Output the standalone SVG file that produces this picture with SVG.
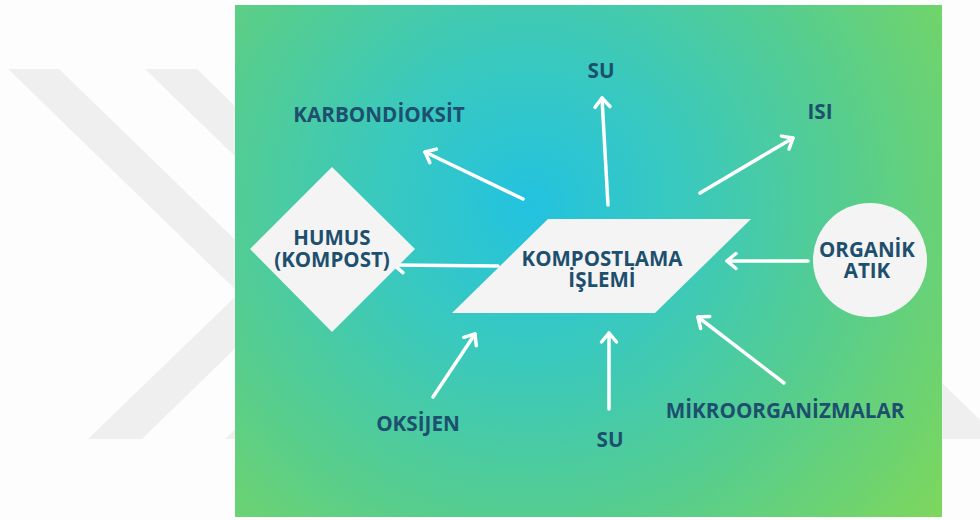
<svg xmlns="http://www.w3.org/2000/svg" width="980" height="520" viewBox="0 0 980 520">
  <defs>
    <radialGradient id="bg" gradientUnits="userSpaceOnUse" cx="530" cy="205" r="520">
      <stop offset="0" stop-color="#22c2e0"/>
      <stop offset="0.3" stop-color="#3ac9bd"/>
      <stop offset="0.6" stop-color="#55cd90"/>
      <stop offset="1" stop-color="#7ed75a"/>
    </radialGradient>
    <marker id="head" markerUnits="userSpaceOnUse" markerWidth="30" markerHeight="30" viewBox="-15 -15 30 30" refX="0" refY="0" orient="auto">
      <path d="M-9,-7.5 L0,0 L-9,7.5" fill="none" stroke="#ffffff" stroke-width="3.5" stroke-linecap="round" stroke-linejoin="round"/>
    </marker>
    <style>
      .wm { fill: #efefef; }
      .shape { fill: #f4f4f4; }
      .t { font-family: "Open Sans", "DejaVu Sans", sans-serif; font-weight: 700; fill: #1d4f6e; text-anchor: middle; }
      .lbl { font-size: 20.7px; }
      .nd { font-size: 20.5px; }
      .arr { fill: none; stroke: #ffffff; stroke-width: 3.5; stroke-linecap: round; marker-end: url(#head); }
    </style>
  </defs>

  <rect x="0" y="0" width="980" height="520" fill="#fdfdfd"/>
  <g id="watermark">
    <polygon class="wm" points="8,69 59,69 291,294 142,439 88,439 239,293"/>
    <polygon class="wm" points="145,69 197,69 428,294 279,439 225,439 376,293"/>
    <polygon class="wm" points="942,383 980,420 980,439 942,439"/>
  </g>

  <rect x="235" y="5" width="707" height="512" fill="url(#bg)"/>

  <g id="connectors">
    <line class="arr" x1="523" y1="199" x2="425" y2="152"/>
    <line class="arr" x1="608" y1="205" x2="602" y2="98"/>
    <line class="arr" x1="700" y1="193" x2="793" y2="138"/>
    <line class="arr" x1="498" y1="266" x2="394" y2="265"/>
    <line class="arr" x1="808" y1="261" x2="727" y2="261"/>
    <line class="arr" x1="433" y1="397" x2="475" y2="334"/>
    <line class="arr" x1="609" y1="409" x2="609" y2="333"/>
    <line class="arr" x1="784" y1="383" x2="698" y2="317"/>
  </g>

  <g id="humus">
    <polygon class="shape" points="332,167 415,249 332,332 250,249"/>
    <text class="t nd" x="332" y="245">HUMUS</text>
    <text class="t nd" x="332" y="267">(KOMPOST)</text>
  </g>

  <g id="kompostlama">
    <polygon class="shape" points="548,219 751,219 655,313 452,313"/>
    <text class="t nd" x="602" y="266">KOMPOSTLAMA</text>
    <text class="t nd" x="602" y="287">İŞLEMİ</text>
  </g>

  <g id="organik">
    <circle class="shape" cx="870" cy="260" r="57"/>
    <text class="t nd" x="867" y="257">ORGANİK</text>
    <text class="t nd" x="867" y="278">ATIK</text>
  </g>

  <g id="karbondioksit"><text class="t lbl" x="379" y="122">KARBONDİOKSİT</text></g>
  <g id="su-top"><text class="t lbl" x="601" y="78">SU</text></g>
  <g id="isi"><text class="t lbl" x="820" y="119">ISI</text></g>
  <g id="oksijen"><text class="t lbl" x="418" y="431">OKSİJEN</text></g>
  <g id="su-bottom"><text class="t lbl" x="610" y="447">SU</text></g>
  <g id="mikroorganizmalar"><text class="t lbl" x="785" y="418">MİKROORGANİZMALAR</text></g>
</svg>
